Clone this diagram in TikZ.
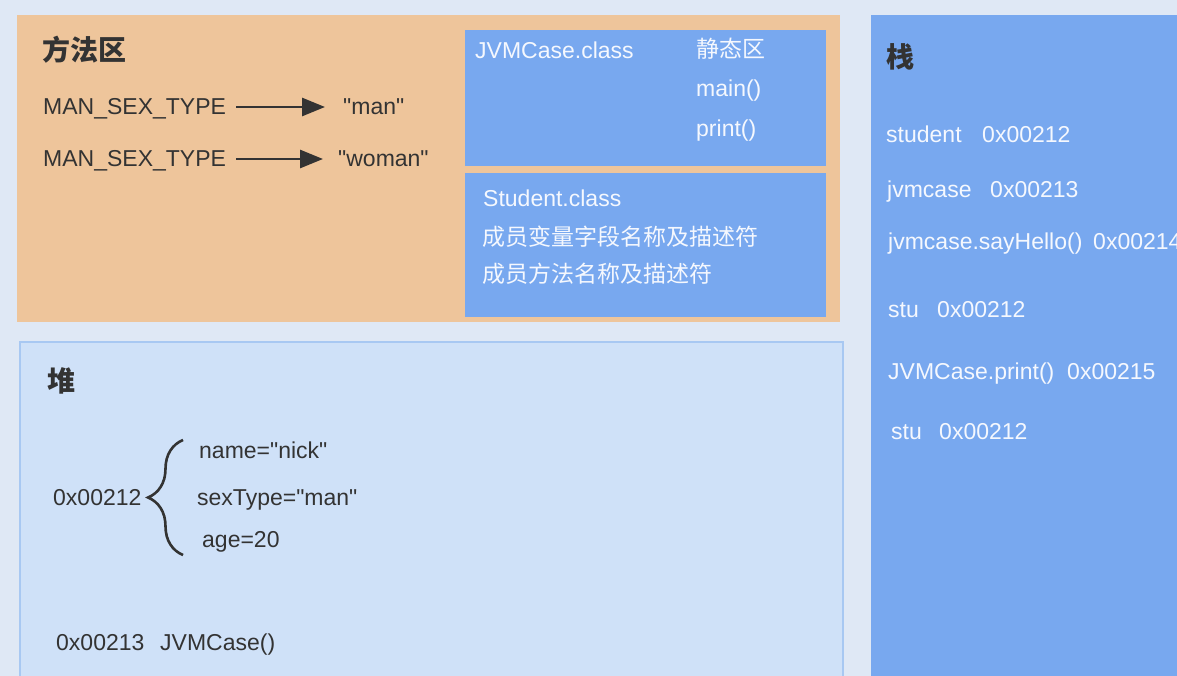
\documentclass[tikz,border=0pt]{standalone}
\usepackage{fontspec}
\setmainfont{Liberation Sans}[Ligatures=TeXOff]
\newfontfamily\cjk{Noto Sans CJK SC}
\usetikzlibrary{arrows.meta,decorations.pathreplacing}
\definecolor{bgcol}{HTML}{DFE8F5}
\definecolor{methodcol}{HTML}{EEC59B}
\definecolor{classcol}{HTML}{78A8EF}
\definecolor{heapcol}{HTML}{CFE1F8}
\definecolor{heapline}{HTML}{A8C8F2}
\definecolor{darktext}{HTML}{333333}
\definecolor{lighttext}{HTML}{F5F8FE}
\tikzset{
  txt/.style={inner sep=0pt, anchor=base west, font=\fontsize{23}{28}\selectfont, text=darktext},
  wtxt/.style={txt, text=lighttext},
  cjktxt/.style={wtxt, font=\cjk\fontsize{23}{28}\selectfont},
  title/.style={inner sep=0pt, anchor=base west, font=\cjk\bfseries\fontsize{28}{32}\selectfont, text=darktext},
  ptr/.style={line width=2.8pt, draw=darktext, -{Triangle[length=23pt,width=18pt]}},
  curly/.style={decorate, decoration={brace, amplitude=35pt}, line width=2.6pt, draw=darktext}
}
\begin{document}
\begin{tikzpicture}[x=1pt,y=-1pt]
\useasboundingbox (0,0) rectangle (1177,676);
\clip (0,0) rectangle (1177,676);
\fill[bgcol] (0,0) rectangle (1177,676);
%%% method area
\fill[methodcol] (17,15) rectangle (840,322);
\fill[classcol] (465,30) rectangle (826,166);
\fill[classcol] (465,173) rectangle (826,317);
\node[title] (mtitle) at (42,61) {方法区};
\node[txt] (k1) at (43,115) {MAN\_SEX\_TYPE};
\node[txt] (v1) at (343,115) {"man"};
\node[txt] (k2) at (43,167) {MAN\_SEX\_TYPE};
\node[txt] (v2) at (338,167) {"woman"};
\draw[ptr] ([shift={(10pt,8pt)}]k1.base east) -- ([shift={(-18pt,8pt)}]v1.base west);
\draw[ptr] ([shift={(10pt,8pt)}]k2.base east) -- ([shift={(-15pt,8pt)}]v2.base west);
% JVMCase.class
\node[wtxt] (jvm) at (475,59) {JVMCase.class};
\node[cjktxt] (static) at (696,58) {静态区};
\node[wtxt] (mmain) at (696,97) {main()};
\node[wtxt] (mprint) at (696,137) {print()};
% Student.class
\node[wtxt] (stud) at (483,207) {Student.class};
\node[cjktxt] (fields) at (482,246) {成员变量字段名称及描述符};
\node[cjktxt] (methods) at (482,283) {成员方法名称及描述符};
%%% heap
\filldraw[fill=heapcol, draw=heapline, line width=2pt] (20,342) rectangle (843,700);
\node[title] (htitle) at (47,391) {堆};
\node[txt] (obj) at (53,505) {0x00212};
\draw[curly] (183,555) -- (183,440);
\node[txt] (fname) at (199,458) {name="nick"};
\node[txt] (fsex) at (197,505) {sexType="man"};
\node[txt] (fage) at (202,547) {age=20};
\node[txt] (jaddr) at (56,650) {0x00213};
\node[txt] (jobj) at (160,650) {JVMCase()};
%%% stack
\fill[classcol] (871,15) rectangle (1190,700);
\node[title] (stitle) at (886,68) {栈};
\foreach \nx/\nm/\ax/\ad/\by [count=\i] in {886/student/982/0x00212/143,
    887/jvmcase/990/0x00213/198, 888/jvmcase.sayHello()/1093/0x00214/250,
    888/stu/937/0x00212/317, 888/JVMCase.print()/1067/0x00215/379,
    891/stu/939/0x00212/439}
{
  \node[wtxt] (s\i) at (\nx,\by) {\nm};
  \node[wtxt] (a\i) at (\ax,\by) {\ad};
}
\end{tikzpicture}
\end{document}
